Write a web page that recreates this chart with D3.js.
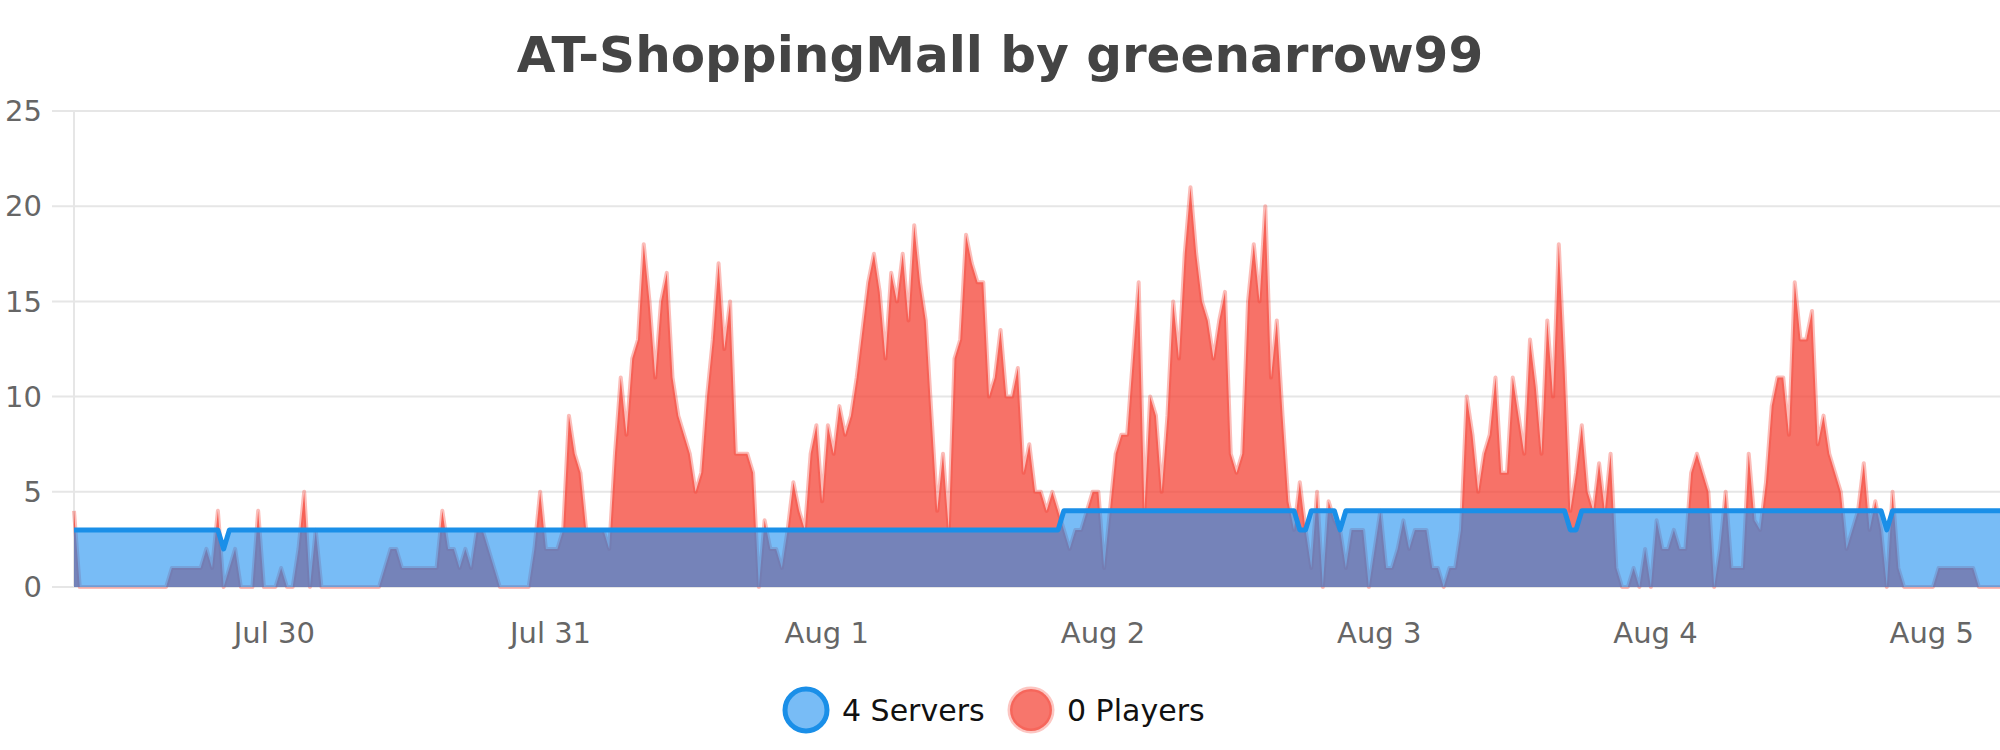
<!DOCTYPE html>
<html lang="en">
<head>
    <meta charset="UTF-8">
    <title>AT-ShoppingMall by greenarrow99</title>
    <script src="https://d3js.org/d3.v7.min.js"></script>
    <style>
        body { margin: 0; background: #fff; }
        svg text { font-family: "DejaVu Sans", sans-serif; }
    </style>
</head>
<body>
    <div id="chart"></div>

    <script>
        // one sample every 30 minutes, first sample Jul 29 06:36
        const startTime = new Date(2021, 6, 29, 6, 36);
        const stepMinutes = 30;

        // players online (rows of 12 hours)
        const players = [
            4, 0, 0, 0, 0, 0, 0, 0, 0, 0, 0, 0, 0, 0, 0, 0, 0, 1, 1, 1, 1, 1, 1, 2,
            1, 4, 0, 1, 2, 0, 0, 0, 4, 0, 0, 0, 1, 0, 0, 2, 5, 0, 3, 0, 0, 0, 0, 0,
            0, 0, 0, 0, 0, 0, 1, 2, 2, 1, 1, 1, 1, 1, 1, 1, 4, 2, 2, 1, 2, 1, 3, 3,
            2, 1, 0, 0, 0, 0, 0, 0, 2, 5, 2, 2, 2, 3, 9, 7, 6, 3, 3, 3, 3, 2, 7, 11,
            8, 12, 13, 18, 15, 11, 15, 16.5, 11, 9, 8, 7, 5, 6, 10, 13, 17, 12.5, 15, 7, 7, 7, 6, 0,
            3.5, 2, 2, 1, 3, 5.5, 4, 3, 7, 8.5, 4.5, 8.5, 7, 9.5, 8, 9, 11, 13.5, 16, 17.5, 15.5, 12, 16.5, 15,
            17.5, 14, 19, 16, 14, 9, 4, 7, 3, 12, 13, 18.5, 17, 16, 16, 10, 11, 13.5, 10, 10, 11.5, 6, 7.5, 5,
            5, 4, 5, 4, 3, 2, 3, 3, 4, 5, 5, 1, 4, 7, 8, 8, 12, 16, 4, 10, 9, 5, 9, 15,
            12, 17.5, 21, 17.5, 15, 14, 12, 14, 15.5, 7, 6, 7, 15, 18, 15, 20, 11, 14, 9, 4.5, 3, 5.5, 3, 1,
            5, 0, 4.5, 3.5, 3, 1, 3, 3, 3, 0, 2, 4, 1, 1, 2, 3.5, 2, 3, 3, 3, 1, 1, 0, 1,
            1, 3, 10, 8, 5, 7, 8, 11, 6, 6, 11, 9, 7, 13, 10.5, 7, 14, 10, 18, 11.5, 4, 6, 8.5, 5,
            4, 6.5, 4, 7, 1, 0, 0, 1, 0, 2, 0, 3.5, 2, 2, 3, 2, 2, 6, 7, 6, 5, 0, 2, 5,
            1, 1, 1, 7, 3.5, 3, 5.5, 9.5, 11, 11, 8, 16, 13, 13, 14.5, 7.5, 9, 7, 6, 5, 2, 3, 4, 6.5,
            3, 4.5, 3, 0, 5, 1, 0, 0, 0, 0, 0, 0, 1, 1, 1, 1, 1, 1, 1, 0, 0, 0, 0, 0
        ];

        // servers online (rows of 12 hours)
        const servers = [
            3, 3, 3, 3, 3, 3, 3, 3, 3, 3, 3, 3, 3, 3, 3, 3, 3, 3, 3, 3, 3, 3, 3, 3,
            3, 3, 2, 3, 3, 3, 3, 3, 3, 3, 3, 3, 3, 3, 3, 3, 3, 3, 3, 3, 3, 3, 3, 3,
            3, 3, 3, 3, 3, 3, 3, 3, 3, 3, 3, 3, 3, 3, 3, 3, 3, 3, 3, 3, 3, 3, 3, 3,
            3, 3, 3, 3, 3, 3, 3, 3, 3, 3, 3, 3, 3, 3, 3, 3, 3, 3, 3, 3, 3, 3, 3, 3,
            3, 3, 3, 3, 3, 3, 3, 3, 3, 3, 3, 3, 3, 3, 3, 3, 3, 3, 3, 3, 3, 3, 3, 3,
            3, 3, 3, 3, 3, 3, 3, 3, 3, 3, 3, 3, 3, 3, 3, 3, 3, 3, 3, 3, 3, 3, 3, 3,
            3, 3, 3, 3, 3, 3, 3, 3, 3, 3, 3, 3, 3, 3, 3, 3, 3, 3, 3, 3, 3, 3, 3, 3,
            3, 3, 3, 3, 4, 4, 4, 4, 4, 4, 4, 4, 4, 4, 4, 4, 4, 4, 4, 4, 4, 4, 4, 4,
            4, 4, 4, 4, 4, 4, 4, 4, 4, 4, 4, 4, 4, 4, 4, 4, 4, 4, 4, 4, 4, 3, 3, 4,
            4, 4, 4, 4, 3, 4, 4, 4, 4, 4, 4, 4, 4, 4, 4, 4, 4, 4, 4, 4, 4, 4, 4, 4,
            4, 4, 4, 4, 4, 4, 4, 4, 4, 4, 4, 4, 4, 4, 4, 4, 4, 4, 4, 4, 3, 3, 4, 4,
            4, 4, 4, 4, 4, 4, 4, 4, 4, 4, 4, 4, 4, 4, 4, 4, 4, 4, 4, 4, 4, 4, 4, 4,
            4, 4, 4, 4, 4, 4, 4, 4, 4, 4, 4, 4, 4, 4, 4, 4, 4, 4, 4, 4, 4, 4, 4, 4,
            4, 4, 4, 3, 4, 4, 4, 4, 4, 4, 4, 4, 4, 4, 4, 4, 4, 4, 4, 4, 4, 4, 4, 4
        ];

        const yTicks = [0, 5, 10, 15, 20, 25];
        const legendLabels = ["4 Servers", "0 Players"];
        const titleText = "AT-ShoppingMall by greenarrow99";

        const width = 2000;
        const height = 750;
        const plotLeft = 74;
        const plotTop = 111;
        const plotBottom = 587;
        const hourWidth = 11.51;

        const times = players.map((d, i) => new Date(startTime.getTime() + i * stepMinutes * 60000));
        const spanHours = (times[times.length - 1] - times[0]) / 3600000;

        const svg = d3.select('#chart').append('svg')
            .attr('width', width)
            .attr('height', height);

        const x = d3.scaleTime()
            .domain([times[0], times[times.length - 1]])
            .range([plotLeft, plotLeft + spanHours * hourWidth]);

        const y = d3.scaleLinear()
            .domain([0, 25])
            .range([plotBottom, plotTop]);

        // title
        svg.append('text')
            .attr('x', width / 2)
            .attr('y', 72)
            .attr('text-anchor', 'middle')
            .attr('font-size', 50)
            .attr('font-weight', 'bold')
            .attr('fill', '#444')
            .text(titleText);

        // horizontal grid
        svg.append('g')
            .selectAll('line')
            .data(yTicks)
            .join('line')
            .attr('x1', 52)
            .attr('x2', width)
            .attr('y1', d => y(d))
            .attr('y2', d => y(d))
            .attr('stroke', '#e6e6e6')
            .attr('stroke-width', 2);

        // y axis line
        svg.append('line')
            .attr('x1', plotLeft).attr('x2', plotLeft)
            .attr('y1', plotTop).attr('y2', plotBottom)
            .attr('stroke', '#e6e6e6')
            .attr('stroke-width', 2);

        // y labels
        svg.append('g')
            .selectAll('text')
            .data(yTicks)
            .join('text')
            .attr('x', 42)
            .attr('y', d => y(d))
            .attr('dy', '0.35em')
            .attr('text-anchor', 'end')
            .attr('font-size', 29)
            .attr('fill', '#666')
            .text(d => d);

        // x labels, one per day
        const fmt = d3.timeFormat('%b %-d');
        svg.append('g')
            .selectAll('text')
            .data(x.ticks(d3.timeDay.every(1)))
            .join('text')
            .attr('x', d => x(d))
            .attr('y', 643)
            .attr('text-anchor', 'middle')
            .attr('font-size', 29)
            .attr('fill', '#666')
            .text(d => fmt(d));

        const area = d3.area()
            .x((d, i) => x(times[i]))
            .y0(y(0))
            .y1(d => y(d));
        const line = d3.line()
            .x((d, i) => x(times[i]))
            .y(d => y(d));

        // players (drawn first, servers sit on top)
        svg.append('path')
            .datum(players)
            .attr('d', area)
            .attr('fill', '#f44336')
            .attr('fill-opacity', 0.75);
        svg.append('path')
            .datum(players)
            .attr('d', line)
            .attr('fill', 'none')
            .attr('stroke', '#f44336')
            .attr('stroke-opacity', 0.35)
            .attr('stroke-width', 4)
            .attr('stroke-linejoin', 'round');

        // servers
        svg.append('path')
            .datum(servers)
            .attr('d', area)
            .attr('fill', '#1e90f0')
            .attr('fill-opacity', 0.6);
        svg.append('path')
            .datum(servers)
            .attr('d', line)
            .attr('fill', 'none')
            .attr('stroke', '#1a8fe8')
            .attr('stroke-width', 5)
            .attr('stroke-linejoin', 'round');

        // legend
        const legend = svg.append('g');
        const legendX = [806, 1031];
        const legendFill = ['#78bcf6', '#f7766c'];
        const legendStroke = ['#1a8fe8', 'rgba(244,67,54,0.3)'];
        legend.selectAll('circle')
            .data(legendLabels)
            .join('circle')
            .attr('cx', (d, i) => legendX[i])
            .attr('cy', 710)
            .attr('r', 21)
            .attr('fill', (d, i) => legendFill[i])
            .attr('stroke', (d, i) => legendStroke[i])
            .attr('stroke-width', 5);
        legend.selectAll('text')
            .data(legendLabels)
            .join('text')
            .attr('x', (d, i) => legendX[i] + 36)
            .attr('y', 710)
            .attr('dy', '0.35em')
            .attr('font-size', 30)
            .attr('fill', '#111')
            .text(d => d);
    </script>
</body>
</html>
